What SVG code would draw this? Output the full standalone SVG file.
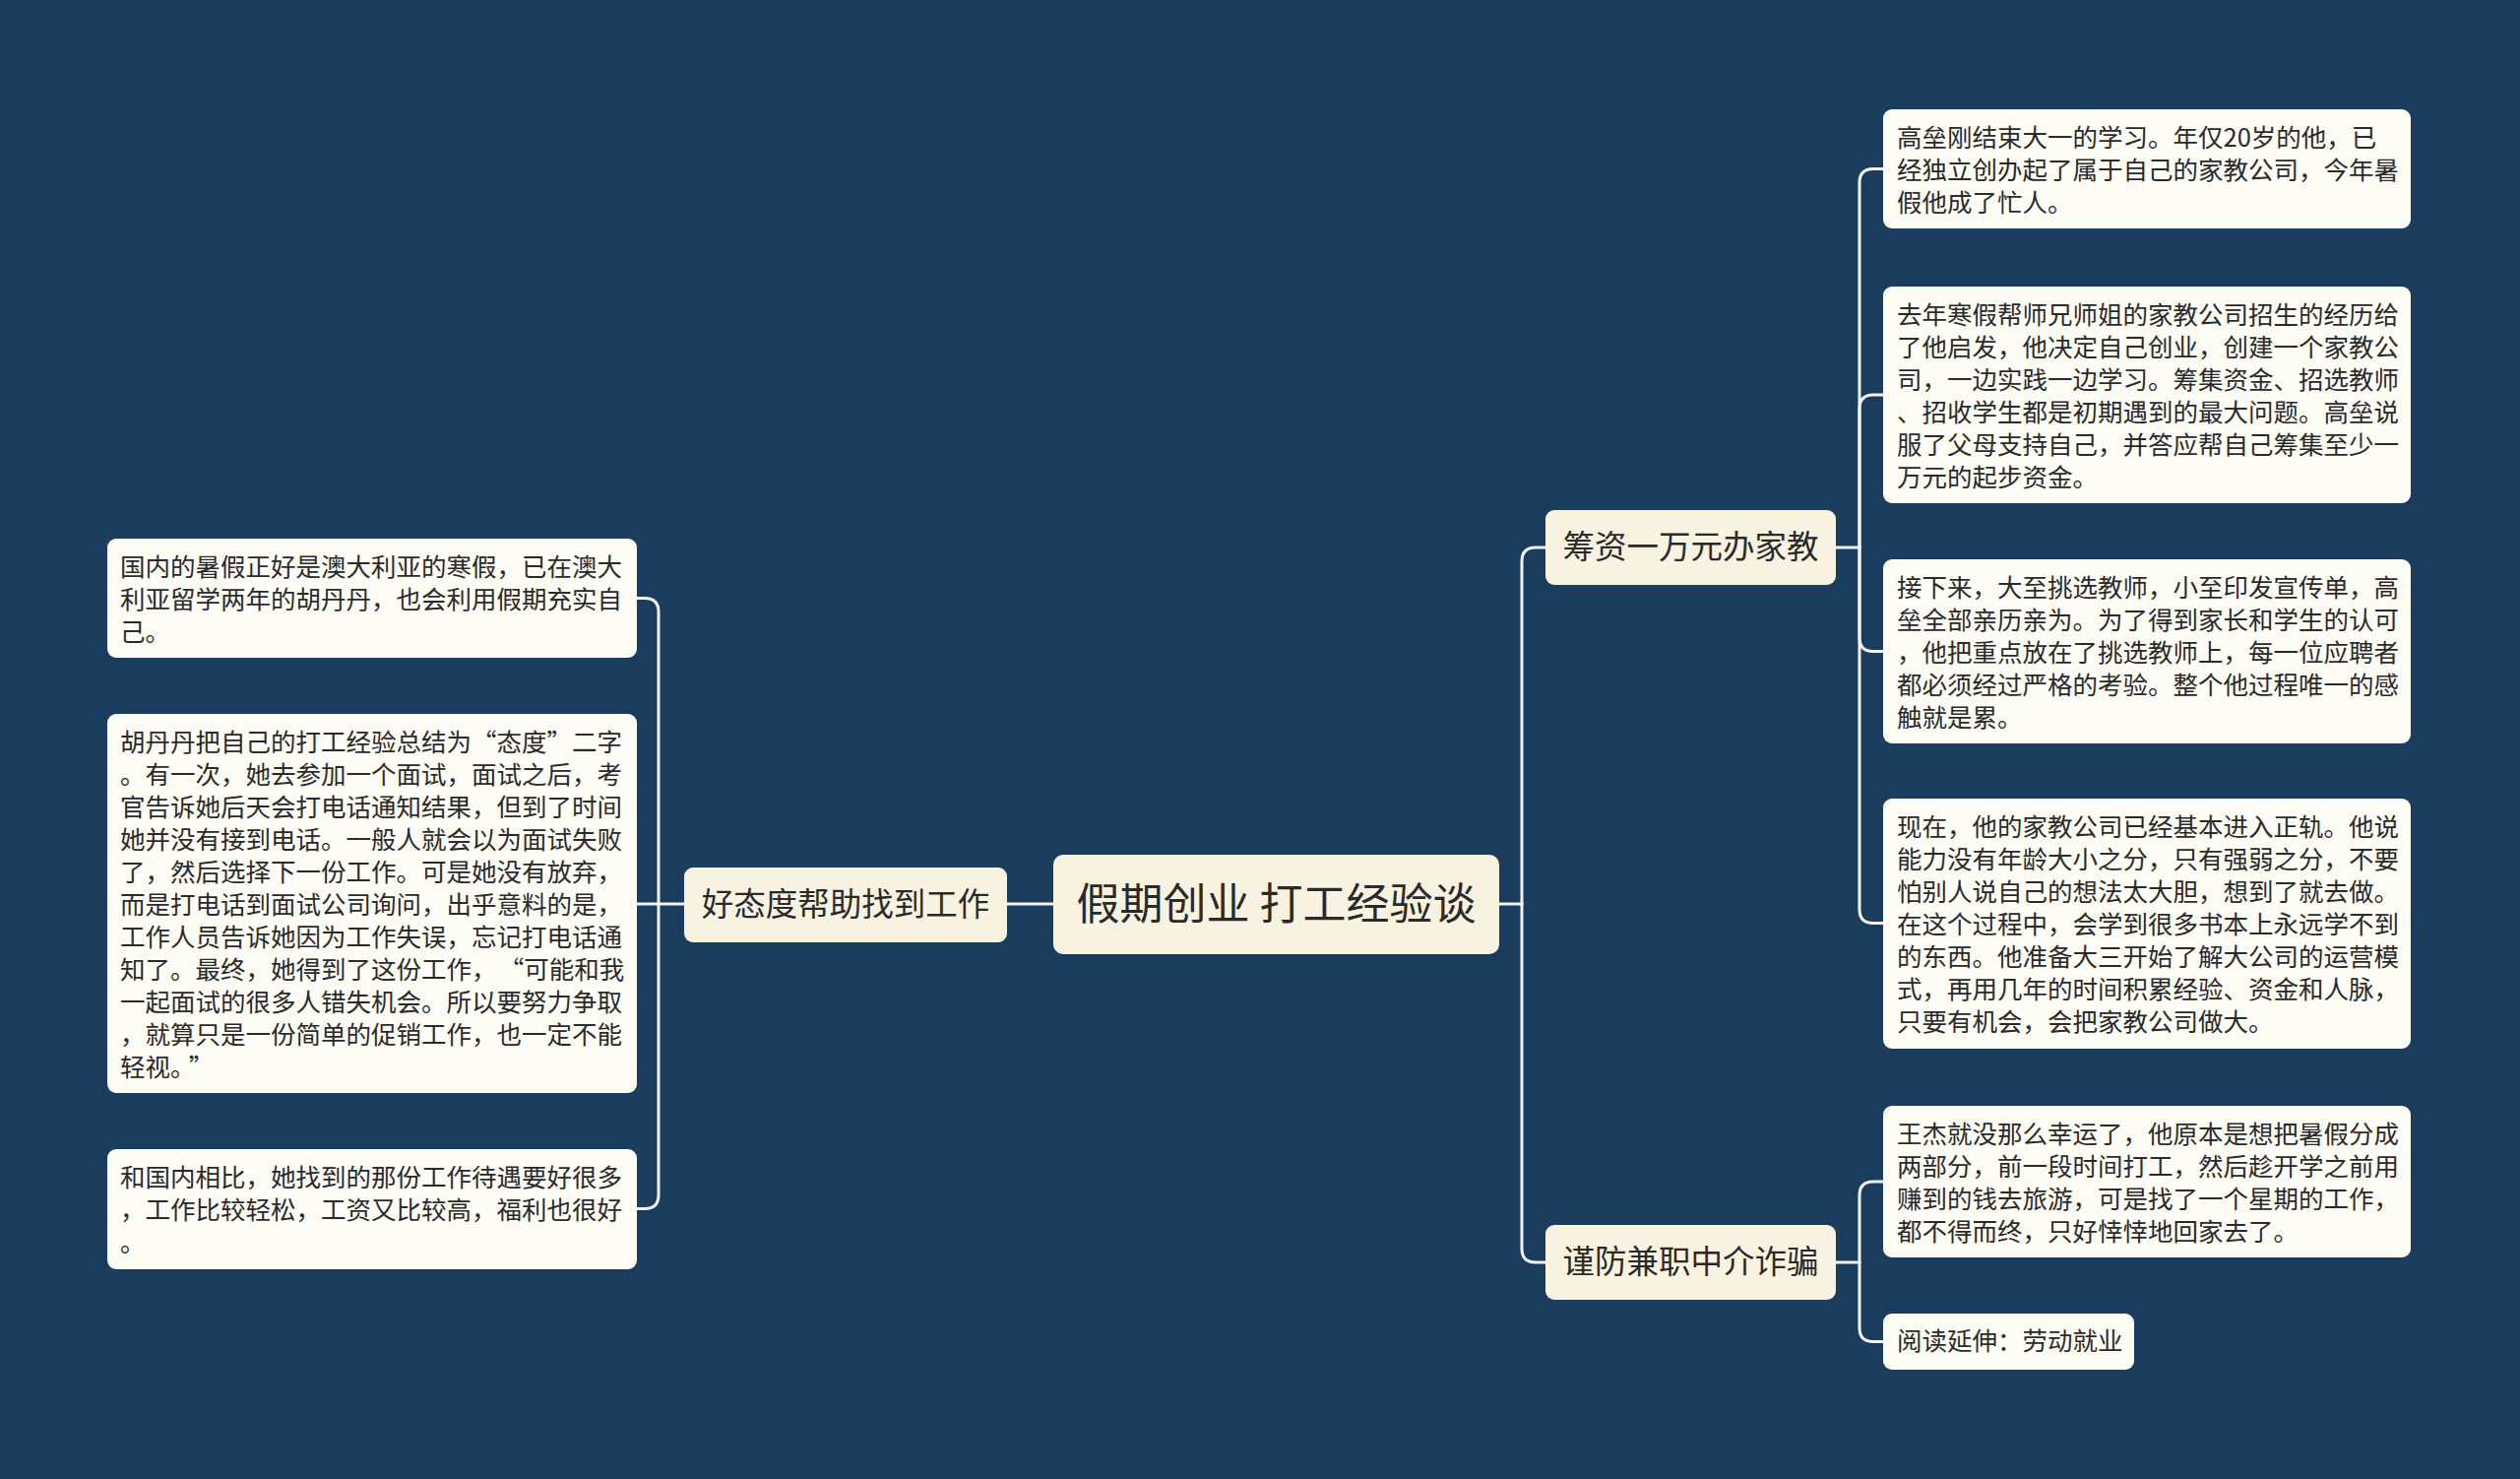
<svg xmlns="http://www.w3.org/2000/svg" width="2560" height="1502" viewBox="0 0 2560 1502">
<style>
.bg{fill:#1a3d5d}
.leaf{fill:#fdfcf5}
.main{fill:#f8f3e0}
.t{font-family:"Noto Sans CJK SC","Noto Sans",sans-serif;fill:#2a2a2a}
.lt{font-size:25.5px}
.bt{font-size:32.5px;text-anchor:middle}
.rt{font-size:44px;text-anchor:middle}
.c{fill:none;stroke:#f4f4f4;stroke-width:3;stroke-linecap:round}
</style>
<rect class="bg" x="0" y="0" width="2560" height="1502"/>
<g id="connectors">
<path class="c" d="M1523,918 H1546"/>
<path class="c" d="M1546,918 V570 Q1546,556 1560,556 H1570"/>
<path class="c" d="M1546,918 V1268 Q1546,1282 1560,1282 H1570"/>
<path class="c" d="M1865,556 H1889"/>
<path class="c" d="M1889,556 V185.5 Q1889,171.5 1903,171.5 H1913"/>
<path class="c" d="M1889,556 V415 Q1889,401 1903,401 H1913"/>
<path class="c" d="M1889,556 V647.5 Q1889,661.5 1903,661.5 H1913"/>
<path class="c" d="M1889,556 V923.5 Q1889,937.5 1903,937.5 H1913"/>
<path class="c" d="M1865,1282 H1889"/>
<path class="c" d="M1889,1282 V1214 Q1889,1200 1903,1200 H1913"/>
<path class="c" d="M1889,1282 V1348.5 Q1889,1362.5 1903,1362.5 H1913"/>
<path class="c" d="M1070,918 H1023"/>
<path class="c" d="M695,918 H669"/>
<path class="c" d="M669,918 V621.5 Q669,607.5 655,607.5 H647"/>
<path class="c" d="M669,918 H647"/>
<path class="c" d="M669,918 V1213.5 Q669,1227.5 655,1227.5 H647"/>
</g>
<g id="root">
<rect class="main" x="1070" y="868" width="453" height="101" rx="10"/>
<text class="t rt" x="1296.5" y="934">假期创业 打工经验谈</text>
</g>
<g id="branch-left">
<rect class="main" x="695" y="881" width="328" height="76" rx="9"/>
<text class="t bt" x="859" y="930">好态度帮助找到工作</text>
</g>
<g id="branch-r1">
<rect class="main" x="1570" y="518" width="295" height="76" rx="9"/>
<text class="t bt" x="1717.5" y="567">筹资一万元办家教</text>
</g>
<g id="branch-r2">
<rect class="main" x="1570" y="1244" width="295" height="76" rx="9"/>
<text class="t bt" x="1717.5" y="1293">谨防兼职中介诈骗</text>
</g>
<g id="leaf-r1">
<rect class="leaf" x="1913" y="111" width="536" height="121" rx="9"/>
<text class="t lt"><tspan x="1927" y="149">高垒刚结束大一的学习。年仅20岁的他，已</tspan><tspan x="1927" y="182">经独立创办起了属于自己的家教公司，今年暑</tspan><tspan x="1927" y="215">假他成了忙人。</tspan></text>
</g>
<g id="leaf-r2">
<rect class="leaf" x="1913" y="291" width="536" height="220" rx="9"/>
<text class="t lt"><tspan x="1927" y="329">去年寒假帮师兄师姐的家教公司招生的经历给</tspan><tspan x="1927" y="362">了他启发，他决定自己创业，创建一个家教公</tspan><tspan x="1927" y="395">司，一边实践一边学习。筹集资金、招选教师</tspan><tspan x="1927" y="428">、招收学生都是初期遇到的最大问题。高垒说</tspan><tspan x="1927" y="461">服了父母支持自己，并答应帮自己筹集至少一</tspan><tspan x="1927" y="494">万元的起步资金。</tspan></text>
</g>
<g id="leaf-r3">
<rect class="leaf" x="1913" y="568" width="536" height="187" rx="9"/>
<text class="t lt"><tspan x="1927" y="606">接下来，大至挑选教师，小至印发宣传单，高</tspan><tspan x="1927" y="639">垒全部亲历亲为。为了得到家长和学生的认可</tspan><tspan x="1927" y="672">，他把重点放在了挑选教师上，每一位应聘者</tspan><tspan x="1927" y="705">都必须经过严格的考验。整个他过程唯一的感</tspan><tspan x="1927" y="738">触就是累。</tspan></text>
</g>
<g id="leaf-r4">
<rect class="leaf" x="1913" y="811" width="536" height="254" rx="9"/>
<text class="t lt"><tspan x="1927" y="849">现在，他的家教公司已经基本进入正轨。他说</tspan><tspan x="1927" y="882">能力没有年龄大小之分，只有强弱之分，不要</tspan><tspan x="1927" y="915">怕别人说自己的想法太大胆，想到了就去做。</tspan><tspan x="1927" y="948">在这个过程中，会学到很多书本上永远学不到</tspan><tspan x="1927" y="981">的东西。他准备大三开始了解大公司的运营模</tspan><tspan x="1927" y="1014">式，再用几年的时间积累经验、资金和人脉，</tspan><tspan x="1927" y="1047">只要有机会，会把家教公司做大。</tspan></text>
</g>
<g id="leaf-r5">
<rect class="leaf" x="1913" y="1123" width="536" height="154" rx="9"/>
<text class="t lt"><tspan x="1927" y="1161">王杰就没那么幸运了，他原本是想把暑假分成</tspan><tspan x="1927" y="1194">两部分，前一段时间打工，然后趁开学之前用</tspan><tspan x="1927" y="1227">赚到的钱去旅游，可是找了一个星期的工作，</tspan><tspan x="1927" y="1260">都不得而终，只好悻悻地回家去了。</tspan></text>
</g>
<g id="leaf-r6">
<rect class="leaf" x="1913" y="1334" width="255" height="57" rx="9"/>
<text class="t lt" x="1927" y="1371">阅读延伸：劳动就业</text>
</g>
<g id="leaf-l1">
<rect class="leaf" x="109" y="547" width="538" height="121" rx="9"/>
<text class="t lt"><tspan x="122" y="585">国内的暑假正好是澳大利亚的寒假，已在澳大</tspan><tspan x="122" y="618">利亚留学两年的胡丹丹，也会利用假期充实自</tspan><tspan x="122" y="651">己。</tspan></text>
</g>
<g id="leaf-l2">
<rect class="leaf" x="109" y="725" width="538" height="385" rx="9"/>
<text class="t lt"><tspan x="122" y="763">胡丹丹把自己的打工经验总结为“态度”二字</tspan><tspan x="122" y="796">。有一次，她去参加一个面试，面试之后，考</tspan><tspan x="122" y="829">官告诉她后天会打电话通知结果，但到了时间</tspan><tspan x="122" y="862">她并没有接到电话。一般人就会以为面试失败</tspan><tspan x="122" y="895">了，然后选择下一份工作。可是她没有放弃，</tspan><tspan x="122" y="928">而是打电话到面试公司询问，出乎意料的是，</tspan><tspan x="122" y="961">工作人员告诉她因为工作失误，忘记打电话通</tspan><tspan x="122" y="994">知了。最终，她得到了这份工作，</tspan><tspan dx="15">“可能和我</tspan><tspan x="122" y="1027">一起面试的很多人错失机会。所以要努力争取</tspan><tspan x="122" y="1060">，就算只是一份简单的促销工作，也一定不能</tspan><tspan x="122" y="1093">轻视。</tspan><tspan dx="6">”</tspan></text>
</g>
<g id="leaf-l3">
<rect class="leaf" x="109" y="1167" width="538" height="122" rx="9"/>
<text class="t lt"><tspan x="122" y="1205">和国内相比，她找到的那份工作待遇要好很多</tspan><tspan x="122" y="1238">，工作比较轻松，工资又比较高，福利也很好</tspan><tspan x="122" y="1271">。</tspan></text>
</g>
</svg>
